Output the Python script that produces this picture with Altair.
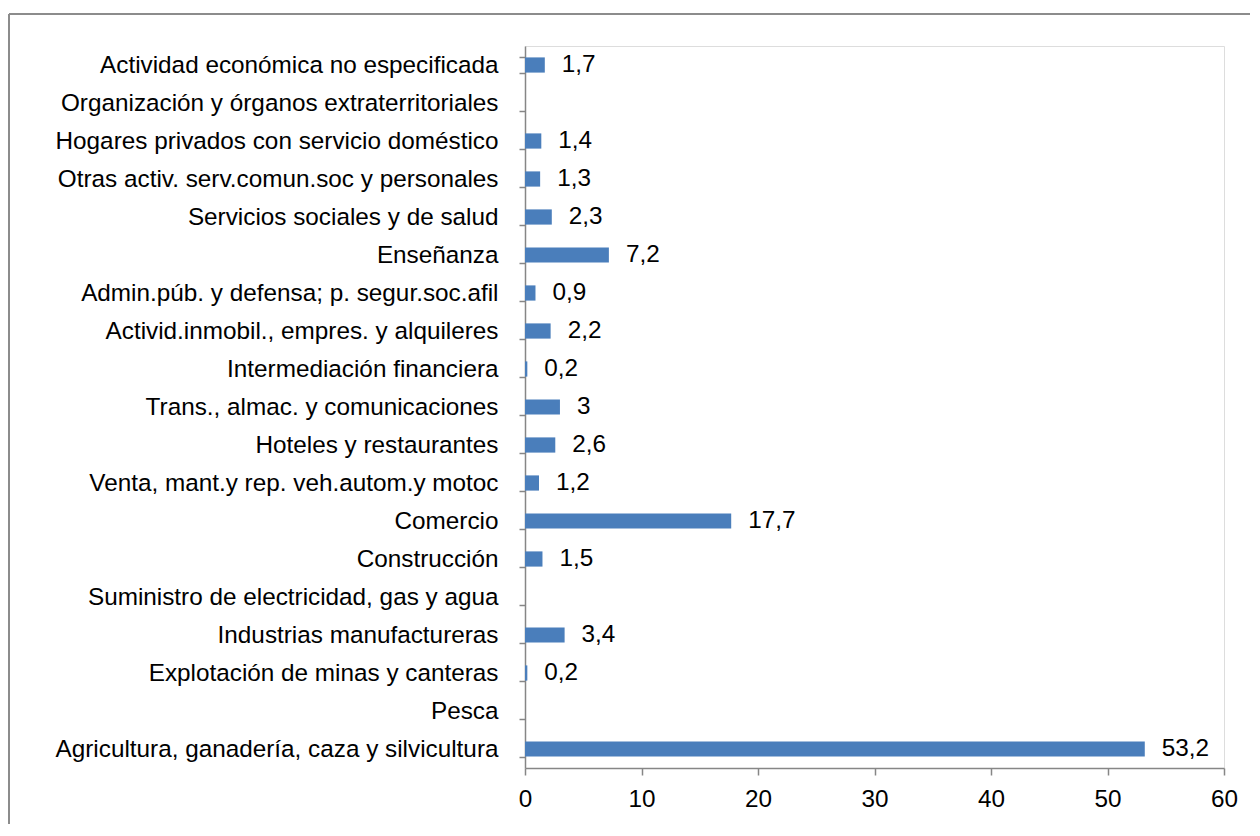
import altair as alt
import pandas as pd

categories = [
    "Actividad económica no especificada",
    "Organización y órganos extraterritoriales",
    "Hogares privados con servicio doméstico",
    "Otras activ. serv.comun.soc y personales",
    "Servicios sociales y de salud",
    "Enseñanza",
    "Admin.púb. y defensa; p. segur.soc.afil",
    "Activid.inmobil., empres. y alquileres",
    "Intermediación financiera",
    "Trans., almac. y comunicaciones",
    "Hoteles y restaurantes",
    "Venta, mant.y rep. veh.autom.y motoc",
    "Comercio",
    "Construcción",
    "Suministro de electricidad, gas y agua",
    "Industrias manufactureras",
    "Explotación de minas y canteras",
    "Pesca",
    "Agricultura, ganadería, caza y silvicultura",
]
values = [1.7, None, 1.4, 1.3, 2.3, 7.2, 0.9, 2.2, 0.2, 3.0, 2.6, 1.2, 17.7, 1.5, None, 3.4, 0.2, None, 53.2]
labels = ["1,7", "", "1,4", "1,3", "2,3", "7,2", "0,9", "2,2", "0,2", "3", "2,6", "1,2", "17,7", "1,5", "", "3,4", "0,2", "", "53,2"]

df = pd.DataFrame({"cat": categories, "val": values, "lab": labels})

FONT = "Liberation Sans"
FS = 24.3
W, H = 699, 722

y_scale = alt.Scale(domain=categories, paddingInner=0.6, paddingOuter=0.3)
y_enc = alt.Y(
    "cat:N",
    title=None,
    scale=y_scale,
    axis=alt.Axis(
        tickBand="extent",
        tickSize=6,
        tickColor="#868686",
        domainColor="#868686",
        domainWidth=1.5,
        tickWidth=1.5,
        labelPadding=21,
        labelFontSize=FS,
        labelFont=FONT,
        labelColor="#000000",
        labelLimit=0,
    ),
)
x_enc = alt.X(
    "val:Q",
    title=None,
    scale=alt.Scale(domain=[0, 60], nice=False),
    axis=alt.Axis(
        values=[0, 10, 20, 30, 40, 50, 60],
        grid=False,
        tickSize=7,
        tickColor="#868686",
        domainColor="#868686",
        domainWidth=1.5,
        tickWidth=1.5,
        labelPadding=12,
        labelFontSize=FS,
        labelFont=FONT,
        labelColor="#000000",
        labelFlush=False,
    ),
)

base = alt.Chart(df).transform_filter("datum.val != null")
bars = base.mark_bar(color="#4a7ebb").encode(x=x_enc, y=y_enc)
text = base.mark_text(
    align="left", dx=17, font=FONT, fontSize=FS, color="#000000"
).encode(x="val:Q", y=alt.Y("cat:N", scale=y_scale), text="lab:N")

frame_df = pd.DataFrame({"k": [0]})
left_line = alt.Chart(frame_df).mark_rule(color="#8c8c8c", strokeWidth=2).encode(
    x=alt.value(-516), y=alt.value(-32), y2=alt.value(778)
)
top_line = alt.Chart(frame_df).mark_rule(color="#8c8c8c", strokeWidth=2).encode(
    x=alt.value(-516), x2=alt.value(725), y=alt.value(-32)
)

chart = alt.layer(left_line, top_line, bars, text).properties(
    width=W, height=H, padding={"top": 5, "left": 0, "right": 0, "bottom": 0}
).configure_view(stroke=None).configure(background="white")

chart.save("out.html", embed_options={"renderer": "svg", "actions": False})
